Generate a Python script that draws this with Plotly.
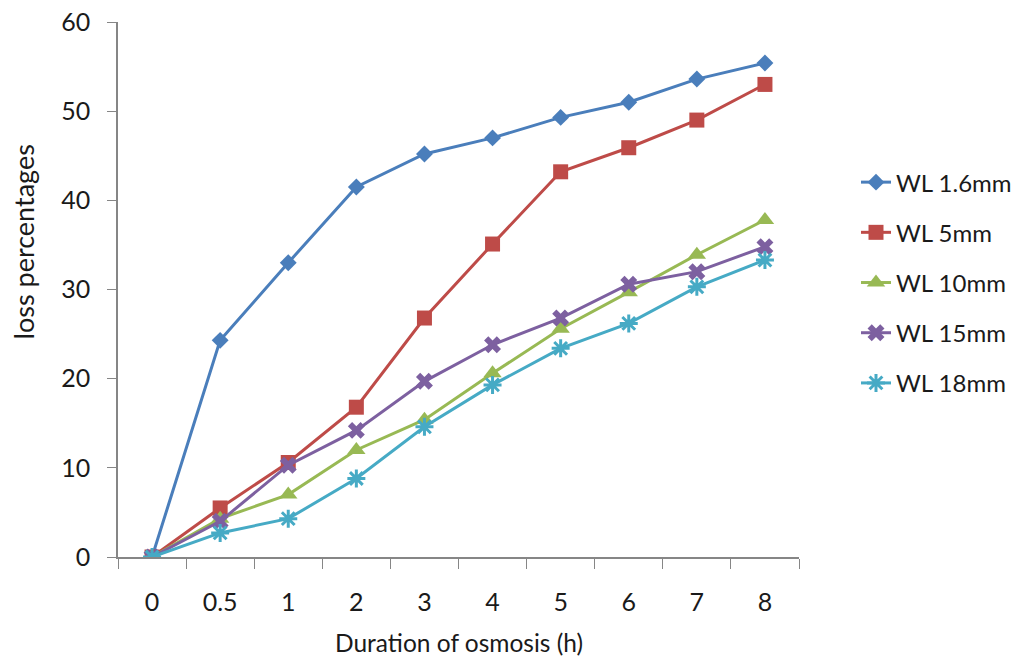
import plotly.graph_objects as go

categories = ["0", "0.5", "1", "2", "3", "4", "5", "6", "7", "8"]
wl_1_6 = [0, 24.3, 33.0, 41.5, 45.2, 47.0, 49.3, 51.0, 53.6, 55.4]
wl_5 = [0, 5.5, 10.6, 16.8, 26.8, 35.1, 43.2, 45.9, 49.0, 53.0]
wl_10 = [0, 4.3, 7.0, 12.0, 15.4, 20.6, 25.6, 29.7, 33.9, 37.8]
wl_15 = [0, 4.0, 10.3, 14.2, 19.7, 23.8, 26.8, 30.6, 32.0, 34.8]
wl_18 = [0, 2.7, 4.3, 8.8, 14.6, 19.3, 23.4, 26.2, 30.3, 33.3]

series = [
    ("WL 1.6mm", wl_1_6, "#4A7EBB", "diamond", 13),
    ("WL 5mm", wl_5, "#BE4B48", "square", 15),
    ("WL 10mm", wl_10, "#98B954", "triangle-up", 16),
    ("WL 15mm", wl_15, "#7D60A0", "x", 15),
    ("WL 18mm", wl_18, "#46AAC5", "asterisk-open", 15),
]

FONT = "Lato"
TXT = "#1a1a1a"
AX = "#868686"

fig = go.Figure()
for name, vals, color, sym, size in series:
    marker = dict(symbol=sym, size=size, color=color)
    if sym == "asterisk-open":
        marker["line"] = dict(color=color, width=3)
    fig.add_trace(go.Scatter(
        x=categories, y=vals, name=name, legendgroup=name,
        mode="lines+markers",
        line=dict(color=color, width=3),
        marker=marker,
    ))

fig.update_layout(
    width=1019, height=656,
    margin=dict(l=118, r=220, t=22, b=99, autoexpand=False),
    paper_bgcolor="white", plot_bgcolor="white",
    font=dict(family=FONT, size=24, color=TXT),
    showlegend=True,
    legend=dict(
        x=1.0837, y=0.742, xanchor="left", yanchor="top",
        traceorder="grouped", tracegroupgap=16,
        font=dict(family=FONT, size=24, color=TXT),
        bgcolor="rgba(0,0,0,0)",
    ),
    xaxis=dict(
        type="category", tickson="boundaries", range=[-0.5, 9.5],
        autorange=False, automargin=False,
        ticks="outside", ticklen=10, tickcolor=AX, tickwidth=1,
        showline=True, linecolor=AX, linewidth=1.5,
        showgrid=False, zeroline=False,
        tickfont=dict(family=FONT, size=25, color=TXT),
        ticklabelstandoff=22,
    ),
    yaxis=dict(
        range=[0, 60], dtick=10, tick0=0, autorange=False, automargin=False,
        ticks="outside", ticklen=9, tickcolor=AX, tickwidth=1,
        showline=True, linecolor=AX, linewidth=1.5,
        showgrid=False, zeroline=False,
        tickfont=dict(family=FONT, size=25, color=TXT),
        ticklabelstandoff=12,
    ),
    annotations=[
        dict(text="Duration of osmosis (h)", xref="paper", yref="paper",
             x=0.5, y=-0.159, xanchor="center", yanchor="middle",
             showarrow=False, font=dict(family=FONT, size=24.5, color=TXT)),
        dict(text="loss percentages", xref="paper", yref="paper",
             x=-0.1395, y=0.588, xanchor="center", yanchor="middle",
             textangle=-90, showarrow=False,
             font=dict(family=FONT, size=27, color=TXT)),
    ],
)

fig.write_html("out.html")
